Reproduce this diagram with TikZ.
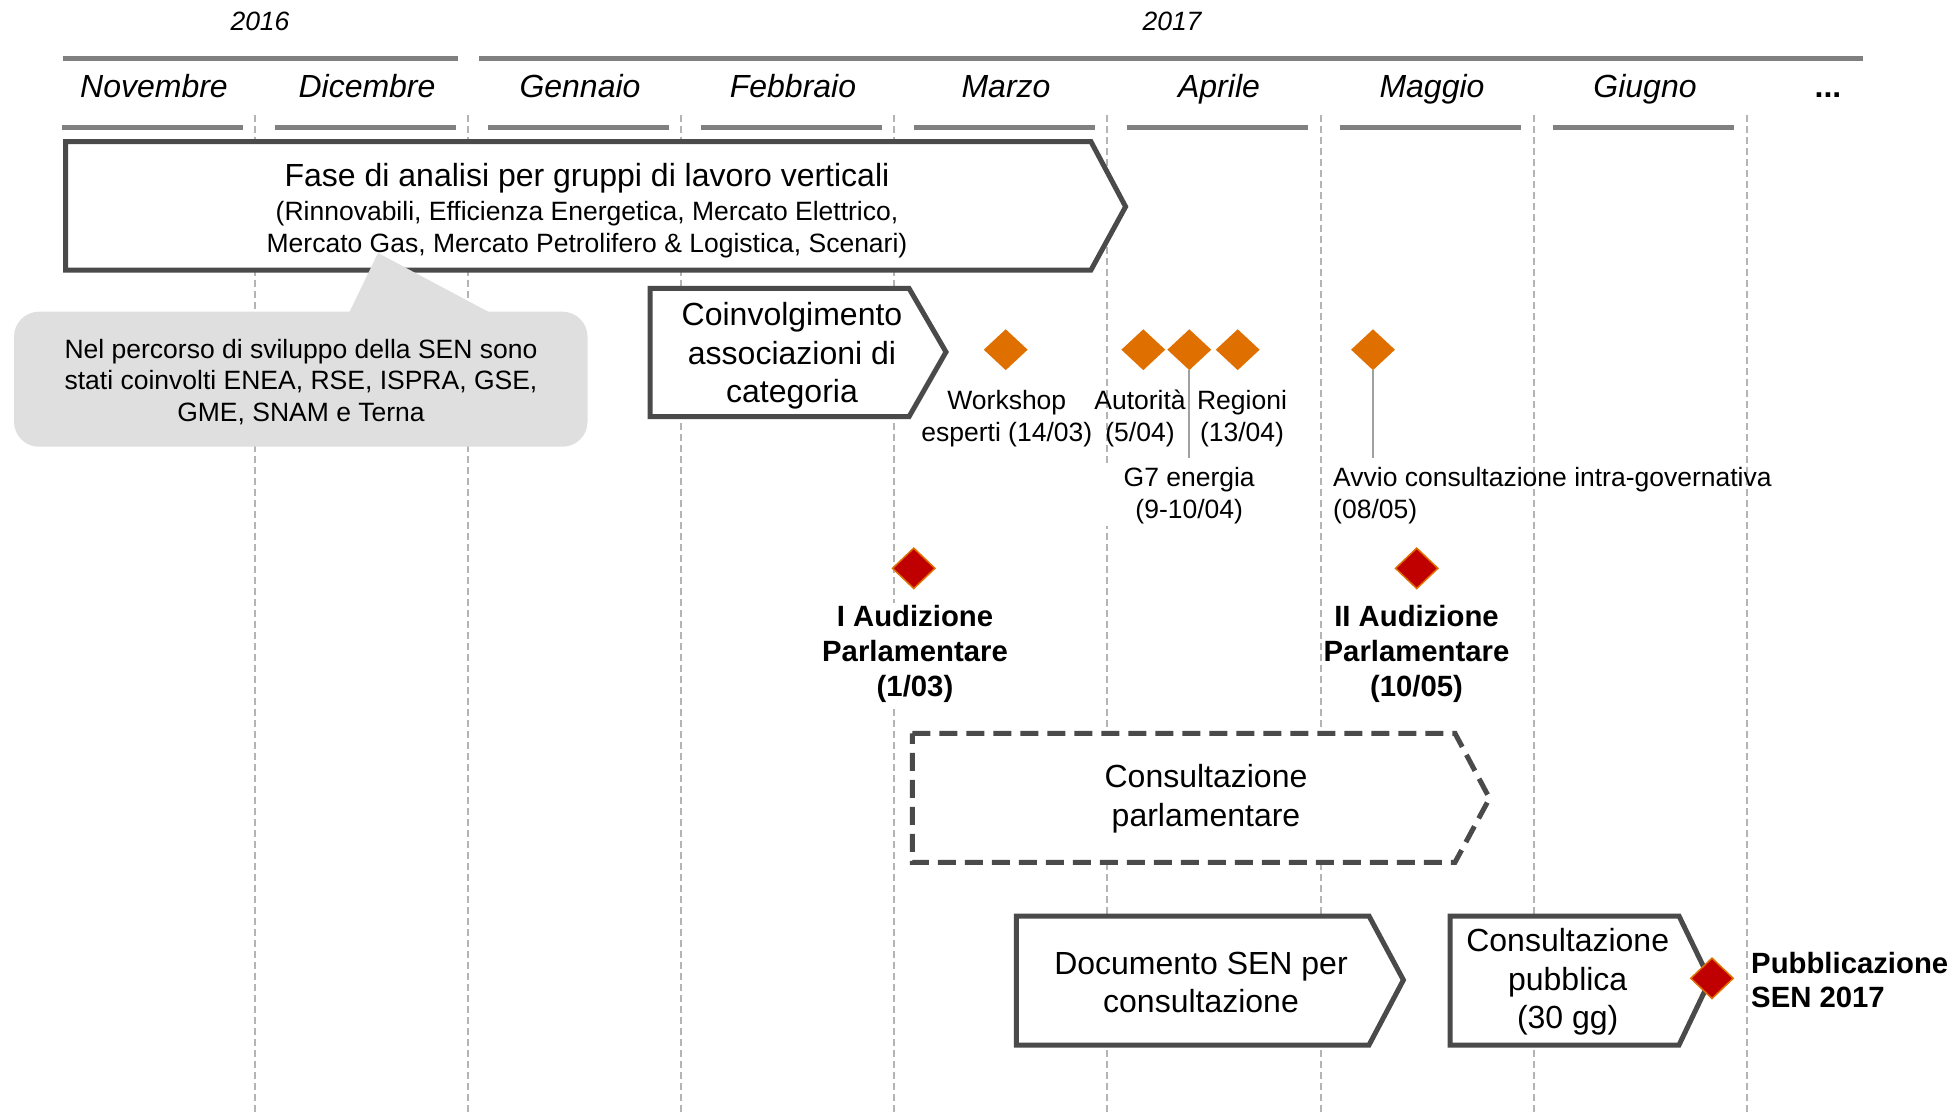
\documentclass[tikz,border=0pt]{standalone}
\usepackage{fontspec}
\setmainfont{Liberation Sans}
\usetikzlibrary{shapes.geometric}
\definecolor{boxline}{HTML}{4A4A4A}
\definecolor{tlgray}{HTML}{808080}
\definecolor{gridgray}{HTML}{B4B4B4}
\definecolor{orng}{HTML}{DF7000}
\definecolor{redd}{HTML}{C00000}
\definecolor{calloutgray}{HTML}{DFDFDF}
\definecolor{pingray}{HTML}{A0A0A0}
\begin{document}
\begin{tikzpicture}[x=1pt,y=-1pt,
  gridline/.style={gridgray, line width=2pt, dash pattern=on 7pt off 4pt},
  tlbar/.style={tlgray, line width=5pt},
  phase/.style={boxline, line width=5pt, fill=white, line join=miter},
  phasedash/.style={phase, dash pattern=on 18pt off 9pt},
  bigtxt/.style={font=\fontsize{32}{38.5}\selectfont, align=center, inner sep=0pt},
  smalltxt/.style={font=\fontsize{26.5}{31.5}\selectfont, align=center, inner sep=0pt},
  boldlbl/.style={font=\fontsize{29.3}{35}\selectfont\bfseries, align=center, inner sep=2pt, fill=white},
  monthlbl/.style={font=\fontsize{32}{38}\selectfont\itshape, anchor=base, inner sep=0pt},
  yearlbl/.style={font=\fontsize{26.5}{31}\selectfont\itshape, anchor=base, inner sep=0pt},
  odia/.style={diamond, fill=orng, minimum width=44pt, minimum height=41pt, inner sep=0pt},
  rdia/.style={diamond, fill=redd, draw=orng, line width=1.5pt, minimum width=43pt, minimum height=41pt, inner sep=0pt},
  pin/.style={pingray, line width=2pt}
]
\useasboundingbox (0,0) rectangle (1960,1114);
\fill[white] (0,0) rectangle (1960,1114);

% grid
\foreach \i in {0,...,7}
  \draw[gridline] ({255+213.1*\i},115) -- ({255+213.1*\i},1114);

% years
\node[yearlbl] (y2016) at (260,30) {2016};
\node[yearlbl] (y2017) at (1172,30) {2017};

% top lines
\draw[tlbar] (62.5,58) -- (457.5,58);
\draw[tlbar] (479,58) -- (1862.5,58);

% months
\foreach \m [count=\i from 0] in {Novembre,Dicembre,Gennaio,Febbraio,Marzo,Aprile,Maggio,Giugno}
  \node[monthlbl] (m\i) at ({154+213*\i},97) {\m};
\node[font=\fontsize{32}{38}\selectfont\bfseries, anchor=base, inner sep=0pt] (dots) at (1828,97) {...};
\foreach \i in {0,...,7}
  \draw[tlbar] ({62+213*\i},127) -- ({243+213*\i},127);

% Fase box
\draw[phase] (65.6,141.7) -- (1091,141.7) -- (1125.6,206.7) -- (1091,270) -- (65.6,270) -- cycle;
\node[bigtxt] (fase) at (587,178.5) {Fase di analisi per gruppi di lavoro verticali};
\node[smalltxt] (fasesub) at (587,229.5) {(Rinnovabili, Efficienza Energetica, Mercato Elettrico,\\Mercato Gas, Mercato Petrolifero \& Logistica, Scenari)};

% callout
\fill[calloutgray, rounded corners=25pt] (14,311.7) rectangle (587.5,446.7);
\fill[calloutgray] (349,313) -- (378,253) -- (490.6,313) -- cycle;
\node[smalltxt] (callout) at (301,382) {Nel percorso di sviluppo della SEN sono\\stati coinvolti ENEA, RSE, ISPRA, GSE,\\GME, SNAM e Terna};

% Coinvolgimento box
\draw[phase] (650,288.3) -- (909,288.3) -- (946,352) -- (909,416.7) -- (650,416.7) -- cycle;
\node[bigtxt] (coinv) at (792,356) {Coinvolgimento\\associazioni di\\categoria};

% orange milestones
\node[odia] (ws) at (1005.7,349.7) {};
\node[odia] (aut) at (1143.3,349.7) {};
\node[odia] (g7) at (1189.3,349.7) {};
\node[odia] (reg) at (1237.7,349.7) {};
\node[odia] (avv) at (1373,349.7) {};
\coordinate (g7end) at (1189.3,458);
\coordinate (avvend) at (1373,458);
\draw[pin] (g7.south) -- (g7end);
\draw[pin] (avv.south) -- (avvend);

\node[smalltxt] (wslbl) at (1006.8,418.5) {Workshop\\esperti (14/03)};
\node[smalltxt] (autlbl) at (1140,418.5) {Autorità\\(5/04)};
\node[smalltxt] (reglbl) at (1242,418.5) {Regioni\\(13/04)};
\node[smalltxt, fill=white, inner xsep=20pt, inner ysep=2pt] (g7lbl) at (1189.2,495.5) {G7 energia\\(9-10/04)};
\node[smalltxt, align=left, anchor=west] (avvlbl) at (1333,495.5) {Avvio consultazione intra-governativa\\(08/05)};

% red milestones
\node[rdia] (aud1) at (913.75,568.3) {};
\node[rdia] (aud2) at (1416.7,568.3) {};
\node[boldlbl] (aud1lbl) at (915,654) {I Audizione\\Parlamentare\\(1/03)};
\node[boldlbl] (aud2lbl) at (1416.5,654) {II Audizione\\Parlamentare\\(10/05)};

% Consultazione parlamentare
\draw[phasedash] (912.4,733.3) -- (1455,733.3) -- (1489.5,798.3) -- (1455,862.3) -- (912.4,862.3) -- cycle;
\node[bigtxt] (cparl) at (1206,798.5) {Consultazione\\parlamentare};

% Documento SEN
\draw[phase] (1016.4,916) -- (1369,916) -- (1403.4,980) -- (1369,1045) -- (1016.4,1045) -- cycle;
\node[bigtxt] (doc) at (1201,982.5) {Documento SEN per\\consultazione};

% Consultazione pubblica
\draw[phase] (1450,916) -- (1679,916) -- (1710,980) -- (1679,1045) -- (1450,1045) -- cycle;
\node[bigtxt] (cpub) at (1567.7,982) {Consultazione\\pubblica\\(30 gg)};

% Pubblicazione
\node[rdia] (pub) at (1712,978.3) {};
\node[font=\fontsize{29.3}{34}\selectfont\bfseries, align=left, anchor=west, inner sep=0pt] (publbl) at (1751,980.5) {Pubblicazione\\SEN 2017};
\end{tikzpicture}
\end{document}
